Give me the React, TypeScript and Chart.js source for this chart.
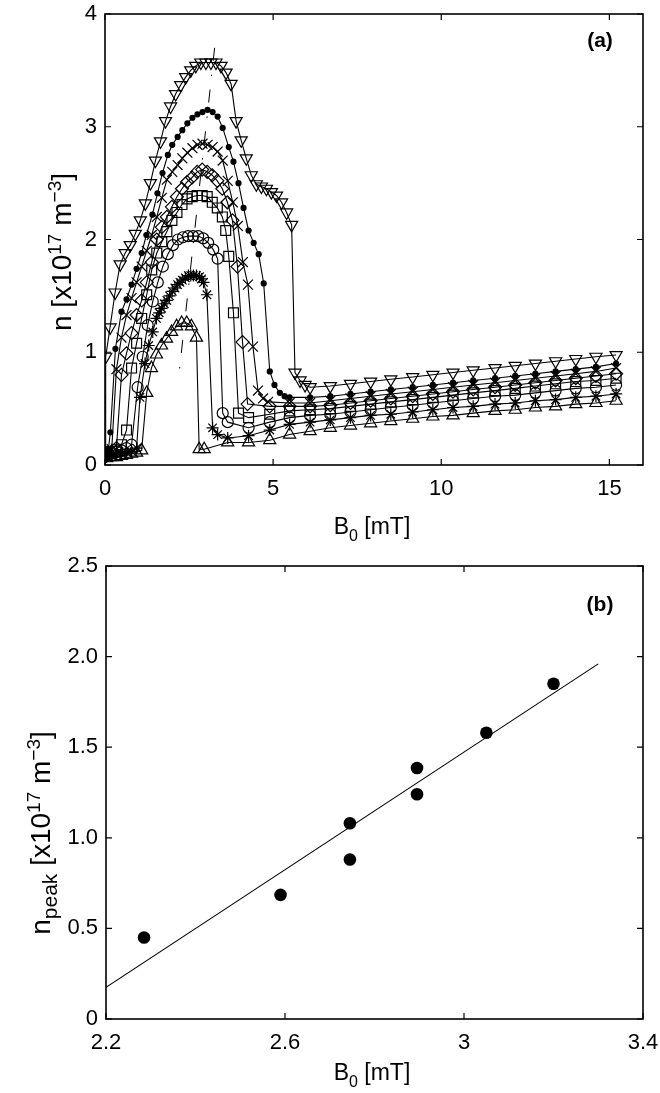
import React, { useEffect, useRef } from "react";
import { Chart, registerables } from "chart.js";
Chart.register(...registerables);

// ---------- Panel (a) data: B0 [mT] vs n [1e17 m^-3] ----------
const tdB = [0, 0.02, 0.15, 0.3, 0.45, 0.6, 0.75, 0.9, 1.05, 1.2, 1.35, 1.5, 1.65, 1.8, 1.95, 2.1, 2.25, 2.4, 2.55, 2.7, 2.85, 3.0, 3.15, 3.3, 3.45, 3.6, 3.75, 3.9, 4.05, 4.2, 4.35, 4.5, 4.65, 4.8, 4.95, 5.1, 5.25, 5.4, 5.55, 5.65, 5.8, 5.95];
const tdN = [0.12, 0.96, 1.22, 1.53, 1.78, 1.88, 1.95, 2.05, 2.17, 2.32, 2.5, 2.7, 2.87, 3.05, 3.18, 3.29, 3.37, 3.44, 3.5, 3.54, 3.57, 3.57, 3.57, 3.57, 3.54, 3.48, 3.38, 3.05, 2.88, 2.72, 2.57, 2.49, 2.47, 2.45, 2.42, 2.39, 2.33, 2.24, 2.13, 0.82, 0.75, 0.71];

const dotB = [0.04, 0.1, 0.16, 0.31, 0.49, 0.64, 0.79, 0.94, 1.09, 1.23, 1.41, 1.56, 1.71, 1.87, 2.0, 2.16, 2.3, 2.45, 2.6, 2.75, 2.9, 3.05, 3.2, 3.35, 3.5, 3.68, 3.82, 3.97, 4.12, 4.27, 4.42, 4.57, 4.72, 4.9, 5.04, 5.2, 5.34, 5.49];
const dotN = [0.1, 0.14, 0.29, 1.03, 1.36, 1.47, 1.6, 1.74, 1.88, 2.04, 2.22, 2.41, 2.59, 2.75, 2.84, 2.91, 2.97, 3.03, 3.08, 3.11, 3.13, 3.15, 3.13, 3.09, 2.99, 2.82, 2.69, 2.5, 2.28, 2.08, 1.97, 1.87, 1.61, 0.83, 0.71, 0.64, 0.61, 0.6];

const crB = [0.05, 0.2, 0.34, 0.49, 0.64, 0.79, 0.94, 1.09, 1.24, 1.39, 1.54, 1.69, 1.84, 2.0, 2.16, 2.3, 2.45, 2.6, 2.75, 2.9, 3.05, 3.2, 3.35, 3.5, 3.65, 3.8, 3.95, 4.1, 4.25, 4.4, 4.55, 4.7, 4.85, 5.49];
const crN = [0.12, 0.14, 0.85, 1.13, 1.33, 1.48, 1.62, 1.76, 1.9, 2.04, 2.2, 2.37, 2.53, 2.6, 2.66, 2.72, 2.77, 2.81, 2.84, 2.85, 2.84, 2.82, 2.78, 2.7, 2.52, 2.33, 2.12, 1.8, 1.6, 1.05, 0.66, 0.59, 0.56, 0.55];

const dmB = [0.05, 0.2, 0.34, 0.49, 0.64, 0.79, 0.94, 1.09, 1.24, 1.39, 1.54, 1.69, 1.84, 1.99, 2.14, 2.29, 2.44, 2.59, 2.74, 2.89, 3.04, 3.19, 3.34, 3.49, 3.64, 3.79, 3.94, 4.09, 4.24, 4.9, 5.49];
const dmN = [0.1, 0.12, 0.15, 0.8, 0.99, 1.17, 1.33, 1.46, 1.62, 1.8, 2.0, 2.11, 2.2, 2.29, 2.38, 2.45, 2.51, 2.55, 2.6, 2.62, 2.6, 2.57, 2.52, 2.45, 2.33, 2.17, 1.76, 1.09, 0.54, 0.52, 0.52];

const sqB = [0.05, 0.2, 0.34, 0.49, 0.64, 0.79, 0.94, 1.09, 1.24, 1.39, 1.54, 1.69, 1.84, 1.99, 2.14, 2.29, 2.44, 2.59, 2.74, 2.89, 3.04, 3.19, 3.34, 3.49, 3.59, 3.68, 3.82, 3.97, 4.27, 4.9, 5.49];
const sqN = [0.1, 0.12, 0.14, 0.18, 0.31, 0.86, 1.08, 1.3, 1.51, 1.73, 1.88, 1.98, 2.07, 2.17, 2.24, 2.31, 2.36, 2.38, 2.39, 2.39, 2.38, 2.33, 2.28, 2.2, 2.08, 1.85, 1.35, 0.46, 0.42, 0.45, 0.48];

const ciB = [0.05, 0.2, 0.34, 0.49, 0.64, 0.79, 0.97, 1.12, 1.27, 1.42, 1.57, 1.72, 1.87, 2.02, 2.17, 2.32, 2.47, 2.62, 2.77, 2.92, 3.07, 3.22, 3.35, 3.5, 3.65, 4.27, 4.9, 5.49];
const ciN = [0.08, 0.1, 0.12, 0.13, 0.15, 0.18, 0.69, 0.96, 1.24, 1.45, 1.62, 1.76, 1.87, 1.95, 2.0, 2.02, 2.03, 2.03, 2.03, 2.01, 1.97, 1.91, 1.83, 0.46, 0.38, 0.33, 0.38, 0.42];

const stB = [0.05, 0.2, 0.34, 0.49, 0.64, 0.79, 0.94, 1.04, 1.19, 1.3, 1.42, 1.53, 1.61, 1.68, 1.76, 1.84, 1.92, 2.0, 2.08, 2.16, 2.23, 2.3, 2.39, 2.48, 2.55, 2.63, 2.72, 2.81, 2.87, 2.93, 3.03, 3.2, 3.35, 3.65, 4.27, 4.9, 5.49];
const stN = [0.07, 0.08, 0.09, 0.1, 0.11, 0.12, 0.15, 0.6, 0.9, 1.06, 1.18, 1.3, 1.35, 1.39, 1.43, 1.46, 1.5, 1.54, 1.57, 1.6, 1.62, 1.64, 1.66, 1.68, 1.68, 1.68, 1.68, 1.67, 1.65, 1.62, 1.51, 0.33, 0.27, 0.24, 0.26, 0.31, 0.36];

const tuB = [0.05, 0.2, 0.34, 0.49, 0.64, 0.79, 0.94, 1.09, 1.24, 1.38, 1.53, 1.68, 1.83, 1.98, 2.13, 2.28, 2.43, 2.57, 2.72, 2.8, 2.95, 3.65, 4.27, 4.9, 5.49];
const tuN = [0.06, 0.07, 0.07, 0.08, 0.09, 0.1, 0.11, 0.13, 0.64, 0.86, 0.98, 1.06, 1.12, 1.18, 1.23, 1.26, 1.26, 1.23, 1.13, 0.14, 0.14, 0.2, 0.2, 0.22, 0.27];

// common coarse B grid at high field
const tailB = [6.1, 6.7, 7.3, 7.9, 8.5, 9.15, 9.75, 10.35, 10.95, 11.6, 12.2, 12.8, 13.4, 14.0, 14.6, 15.2];
const tdTail = [0.69, 0.7, 0.72, 0.74, 0.76, 0.78, 0.8, 0.82, 0.84, 0.86, 0.88, 0.9, 0.92, 0.94, 0.96, 0.975];
const dotTail = [0.6, 0.61, 0.63, 0.65, 0.67, 0.69, 0.71, 0.73, 0.75, 0.77, 0.79, 0.81, 0.83, 0.85, 0.87, 0.9];
const crTail = [0.55, 0.57, 0.59, 0.61, 0.63, 0.65, 0.67, 0.69, 0.71, 0.73, 0.75, 0.77, 0.79, 0.81, 0.83, 0.86];
const dmTail = [0.52, 0.53, 0.55, 0.57, 0.59, 0.61, 0.63, 0.65, 0.67, 0.69, 0.71, 0.73, 0.75, 0.77, 0.79, 0.81];
const sqTail = [0.49, 0.5, 0.52, 0.54, 0.56, 0.58, 0.6, 0.62, 0.64, 0.66, 0.68, 0.7, 0.72, 0.74, 0.75, 0.77];
const ciTail = [0.44, 0.45, 0.47, 0.49, 0.51, 0.53, 0.55, 0.57, 0.59, 0.61, 0.62, 0.64, 0.66, 0.68, 0.69, 0.71];
const stTail = [0.38, 0.4, 0.42, 0.44, 0.45, 0.47, 0.49, 0.51, 0.52, 0.54, 0.55, 0.57, 0.58, 0.6, 0.61, 0.63];
const tuTail = [0.3, 0.33, 0.35, 0.37, 0.39, 0.41, 0.43, 0.44, 0.46, 0.48, 0.49, 0.51, 0.52, 0.54, 0.55, 0.57];

// dash-dot guide through the peaks
const guideB = [3.26, 2.21];
const guideN = [3.7, 0.83];

const xTicksA = [0, 5, 10, 15];
const yTicksA = [0, 1, 2, 3, 4];

// ---------- Panel (b) data ----------
const peakB = [2.285, 2.59, 2.745, 2.745, 2.895, 2.895, 3.05, 3.2];
const peakN = [0.45, 0.685, 1.08, 0.88, 1.385, 1.24, 1.58, 1.85];
const fitB = [2.2, 3.3];
const fitN = [0.175, 1.96];
const xTicksB = [2.2, 2.6, 3.0, 3.4];
const xTickLabelsB = ["2.2", "2.6", "3", "3.4"];
const yTicksB = [0, 0.5, 1.0, 1.5, 2.0, 2.5];
const yTickLabelsB = ["0", "0.5", "1.0", "1.5", "2.0", "2.5"];

const FONT = '"Liberation Sans", Arial, Helvetica, sans-serif';

type Part = { text: string; size: number; dy?: number; bold?: boolean };

function drawRich(ctx: CanvasRenderingContext2D, parts: Part[], cx: number, baseY: number) {
  let total = 0;
  const widths: number[] = [];
  for (const p of parts) {
    ctx.font = `${p.bold ? "bold " : ""}${p.size}px ${FONT}`;
    const w = ctx.measureText(p.text).width;
    widths.push(w);
    total += w;
  }
  let x = cx - total / 2;
  ctx.textAlign = "left";
  ctx.textBaseline = "alphabetic";
  ctx.fillStyle = "#000";
  parts.forEach((p, i) => {
    ctx.font = `${p.bold ? "bold " : ""}${p.size}px ${FONT}`;
    ctx.fillText(p.text, x, baseY + (p.dy || 0));
    x += widths[i];
  });
}

type Deco = {
  xt: number[];
  yt: number[];
  yTitle: Part[];
  yTitlePos: [number, number];
  xTitle: Part[];
  xTitlePos: [number, number];
  tag: string;
  tagPos: [number, number];
};

function framePlugin(d: Deco) {
  return {
    id: "frame",
    afterDatasetsDraw(chart: any) {
      const { ctx, chartArea: a, scales } = chart;
      ctx.save();
      ctx.strokeStyle = "#000";
      ctx.lineWidth = 1.6;
      ctx.strokeRect(a.left, a.top, a.right - a.left, a.bottom - a.top);
      ctx.lineWidth = 1.2;
      const tl = 6;
      ctx.beginPath();
      for (const v of d.xt) {
        const px = scales.x.getPixelForValue(v);
        ctx.moveTo(px, a.bottom);
        ctx.lineTo(px, a.bottom - tl);
        ctx.moveTo(px, a.top);
        ctx.lineTo(px, a.top + tl);
      }
      for (const v of d.yt) {
        const py = scales.y.getPixelForValue(v);
        ctx.moveTo(a.left, py);
        ctx.lineTo(a.left + tl, py);
        ctx.moveTo(a.right, py);
        ctx.lineTo(a.right - tl, py);
      }
      ctx.stroke();
      ctx.restore();
    },
    afterDraw(chart: any) {
      const ctx = chart.ctx as CanvasRenderingContext2D;
      ctx.save();
      drawRich(ctx, d.xTitle, d.xTitlePos[0], d.xTitlePos[1]);
      ctx.save();
      ctx.translate(d.yTitlePos[0], d.yTitlePos[1]);
      ctx.rotate(-Math.PI / 2);
      drawRich(ctx, d.yTitle, 0, 0);
      ctx.restore();
      drawRich(ctx, [{ text: d.tag, size: 21, bold: true }], d.tagPos[0], d.tagPos[1]);
      ctx.restore();
    },
  };
}

function pts(xs: number[], ys: number[]) {
  return xs.map((x, i) => ({ x, y: ys[i] }));
}

function series(b: number[], n: number[], tail: number[], style: any) {
  return {
    data: pts(b.concat(tailB), n.concat(tail)),
    borderColor: "#000",
    borderWidth: 1.1,
    pointBorderColor: "#000",
    pointBorderWidth: 1.2,
    pointBackgroundColor: "rgba(0,0,0,0)",
    tension: 0,
    ...style,
  };
}

const tickFont = { family: FONT, size: 22 };

const noPad = (s: any) => {
  s.paddingLeft = 0;
  s.paddingRight = 0;
  s.paddingTop = 0;
  s.paddingBottom = 0;
};

function TopChart() {
  const ref = useRef<HTMLCanvasElement>(null);
  useEffect(() => {
    const chart = new Chart(ref.current!, {
      type: "line",
      data: {
        datasets: [
          series(tdB, tdN, tdTail, { pointStyle: "triangle", pointRadius: 7, pointRotation: 180 }),
          series(dotB, dotN, dotTail, { pointStyle: "circle", pointRadius: 2.5, pointBackgroundColor: "#000" }),
          series(crB, crN, crTail, { pointStyle: "crossRot", pointRadius: 7 }),
          series(dmB, dmN, dmTail, { pointStyle: "rectRot", pointRadius: 6.5 }),
          series(sqB, sqN, sqTail, { pointStyle: "rect", pointRadius: 7 }),
          series(ciB, ciN, ciTail, { pointStyle: "circle", pointRadius: 5.5 }),
          series(stB, stN, stTail, { pointStyle: "star", pointRadius: 6 }),
          series(tuB, tuN, tuTail, { pointStyle: "triangle", pointRadius: 7 }),
          {
            data: pts(guideB, guideN),
            borderColor: "#000",
            borderWidth: 1,
            borderDash: [13, 14, 1.5, 13.5],
            pointRadius: 0,
          },
        ],
      },
      options: {
        animation: false,
        responsive: false,
        events: [],
        layout: { padding: { left: 0, right: 17, top: 14, bottom: 0 } },
        plugins: { legend: { display: false }, tooltip: { enabled: false } },
        scales: {
          x: {
            type: "linear",
            min: 0,
            max: 16,
            afterBuildTicks: (s: any) => {
              s.ticks = xTicksA.map((v) => ({ value: v }));
            },
            afterFit: (s: any) => {
              s.height = 80;
              noPad(s);
            },
            grid: { display: false, drawTicks: false },
            border: { display: false },
            ticks: { font: tickFont, color: "#000", padding: 11, maxRotation: 0, autoSkip: false, callback: (v: any) => String(v) },
          },
          y: {
            type: "linear",
            min: 0,
            max: 4,
            afterBuildTicks: (s: any) => {
              s.ticks = yTicksA.map((v) => ({ value: v }));
            },
            afterFit: (s: any) => {
              s.width = 105;
              noPad(s);
            },
            grid: { display: false, drawTicks: false },
            border: { display: false },
            ticks: { font: tickFont, color: "#000", padding: 8, autoSkip: false, callback: (v: any) => String(v) },
          },
        },
      },
      plugins: [
        framePlugin({
          xt: xTicksA,
          yt: yTicksA,
          yTitle: [
            { text: "n [x10", size: 28 },
            { text: "17", size: 19, dy: -10 },
            { text: " m", size: 28 },
            { text: "\u22123", size: 19, dy: -10 },
            { text: "]", size: 28 },
          ],
          yTitlePos: [71, 252],
          xTitle: [
            { text: "B", size: 23 },
            { text: "0", size: 16, dy: 7 },
            { text: " [mT]", size: 23 },
          ],
          xTitlePos: [372, 534],
          tag: "(a)",
          tagPos: [600, 47],
        }) as any,
      ],
    } as any);
    return () => chart.destroy();
  }, []);
  return <canvas ref={ref} width={660} height={545} style={{ display: "block", width: 660, height: 545 }} />;
}

function BottomChart() {
  const ref = useRef<HTMLCanvasElement>(null);
  useEffect(() => {
    const chart = new Chart(ref.current!, {
      type: "scatter",
      data: {
        datasets: [
          {
            type: "line",
            data: pts(fitB, fitN),
            borderColor: "#000",
            borderWidth: 1.1,
            pointRadius: 0,
          },
          {
            type: "scatter",
            data: pts(peakB, peakN),
            pointStyle: "circle",
            pointRadius: 6.3,
            pointBackgroundColor: "#000",
            pointBorderColor: "#000",
            pointBorderWidth: 0,
          },
        ],
      },
      options: {
        animation: false,
        responsive: false,
        events: [],
        layout: { padding: { left: 0, right: 17, top: 21, bottom: 0 } },
        plugins: { legend: { display: false }, tooltip: { enabled: false } },
        scales: {
          x: {
            type: "linear",
            min: 2.2,
            max: 3.4,
            afterBuildTicks: (s: any) => {
              s.ticks = xTicksB.map((v) => ({ value: v }));
            },
            afterFit: (s: any) => {
              s.height = 74;
              noPad(s);
            },
            grid: { display: false, drawTicks: false },
            border: { display: false },
            ticks: {
              font: tickFont,
              color: "#000",
              padding: 11,
              maxRotation: 0,
              autoSkip: false,
              callback: (_v: any, i: number) => xTickLabelsB[i],
            },
          },
          y: {
            type: "linear",
            min: 0,
            max: 2.5,
            afterBuildTicks: (s: any) => {
              s.ticks = yTicksB.map((v) => ({ value: v }));
            },
            afterFit: (s: any) => {
              s.width = 106;
              noPad(s);
            },
            grid: { display: false, drawTicks: false },
            border: { display: false },
            ticks: {
              font: tickFont,
              color: "#000",
              padding: 8,
              autoSkip: false,
              callback: (_v: any, i: number) => yTickLabelsB[i],
            },
          },
        },
      },
      plugins: [
        framePlugin({
          xt: xTicksB,
          yt: yTicksB,
          yTitle: [
            { text: "n", size: 28 },
            { text: "peak", size: 21, dy: 7 },
            { text: " [x10", size: 28 },
            { text: "17", size: 19, dy: -10 },
            { text: " m", size: 28 },
            { text: "\u22123", size: 19, dy: -10 },
            { text: "]", size: 28 },
          ],
          yTitlePos: [50, 288],
          xTitle: [
            { text: "B", size: 23 },
            { text: "0", size: 16, dy: 7 },
            { text: " [mT]", size: 23 },
          ],
          xTitlePos: [372, 535],
          tag: "(b)",
          tagPos: [600, 66],
        }) as any,
      ],
    } as any);
    return () => chart.destroy();
  }, []);
  return <canvas ref={ref} width={660} height={548} style={{ display: "block", width: 660, height: 548 }} />;
}

export default function App() {
  return (
    <div style={{ position: "absolute", left: 0, top: 0, width: 660, height: 1093, background: "#fff" }}>
      <TopChart />
      <BottomChart />
    </div>
  );
}
